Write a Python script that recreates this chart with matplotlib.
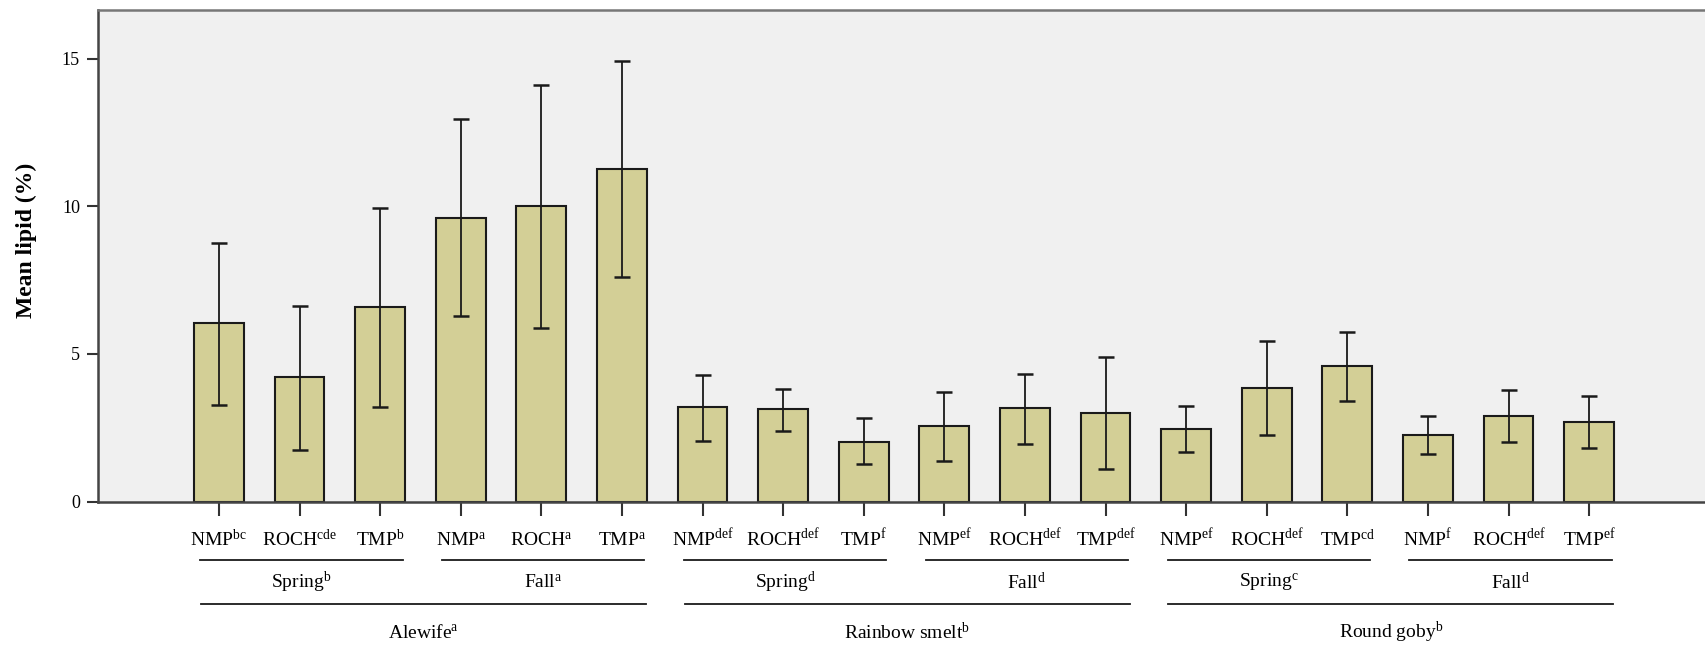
import matplotlib
matplotlib.use('Agg')
import matplotlib.pyplot as plt
import numpy as np

plt.rcParams['font.family'] = ['Liberation Serif', 'DejaVu Serif']
plt.rcParams['mathtext.fontset'] = 'custom'
plt.rcParams['mathtext.rm'] = 'Liberation Serif'
plt.rcParams['mathtext.it'] = 'Liberation Serif:italic'

# Data (mean lipid % and error bar ends)
site_labels = ['NMP$^{\\mathrm{bc}}$', 'ROCH$^{\\mathrm{cde}}$', 'TMP$^{\\mathrm{b}}$',
               'NMP$^{\\mathrm{a}}$', 'ROCH$^{\\mathrm{a}}$', 'TMP$^{\\mathrm{a}}$',
               'NMP$^{\\mathrm{def}}$', 'ROCH$^{\\mathrm{def}}$', 'TMP$^{\\mathrm{f}}$',
               'NMP$^{\\mathrm{ef}}$', 'ROCH$^{\\mathrm{def}}$', 'TMP$^{\\mathrm{def}}$',
               'NMP$^{\\mathrm{ef}}$', 'ROCH$^{\\mathrm{def}}$', 'TMP$^{\\mathrm{cd}}$',
               'NMP$^{\\mathrm{f}}$', 'ROCH$^{\\mathrm{def}}$', 'TMP$^{\\mathrm{ef}}$']
means = [6.04, 4.20, 6.58, 9.59, 10.01, 11.25,
         3.19, 3.12, 2.03, 2.54, 3.15, 3.01,
         2.47, 3.85, 4.58, 2.24, 2.90, 2.70]
err_hi = [8.76, 6.63, 9.94, 12.94, 14.12, 14.90,
          4.27, 3.81, 2.83, 3.71, 4.32, 4.90,
          3.23, 5.44, 5.74, 2.88, 3.76, 3.58]
err_lo = [3.27, 1.76, 3.21, 6.27, 5.89, 7.60,
          2.06, 2.39, 1.26, 1.37, 1.96, 1.10,
          1.66, 2.24, 3.42, 1.60, 2.03, 1.81]
season_labels = ['Spring$^{\\mathrm{b}}$', 'Fall$^{\\mathrm{a}}$',
                 'Spring$^{\\mathrm{d}}$', 'Fall$^{\\mathrm{d}}$',
                 'Spring$^{\\mathrm{c}}$', 'Fall$^{\\mathrm{d}}$']
species_labels = ['Alewife$^{\\mathrm{a}}$', 'Rainbow smelt$^{\\mathrm{b}}$',
                  'Round goby$^{\\mathrm{b}}$']

x = np.arange(len(means))
means = np.array(means)
yerr = np.vstack([means - np.array(err_lo), np.array(err_hi) - means])

fig = plt.figure(figsize=(17.05, 6.45), dpi=100)
ax = fig.add_axes([98 / 1705, 143.5 / 645, 1612 / 1705, 492 / 645])
ax.set_facecolor('#f0f0f0')

ax.bar(x, means, width=0.62, color='#d3cf96', edgecolor='#1a1a1a', linewidth=1.5, zorder=2)
ax.errorbar(x, means, yerr=yerr, fmt='none', ecolor='#1a1a1a', elinewidth=1.3,
            capsize=6, capthick=1.8, zorder=3)

ax.set_xlim(-1.5, 18.5)
ax.set_ylim(0, 16.66)
ax.set_yticks([0, 5, 10, 15])
ax.tick_params(axis='y', direction='out', length=8, width=1.5, color='#333333',
               labelsize=13, pad=5)
ax.set_xticks(x)
ax.set_xticklabels([])
ax.tick_params(axis='x', direction='out', length=10, width=1.5, color='#333333')
ax.set_ylabel('Mean lipid (%)', fontsize=17, fontweight='bold')
ax.yaxis.set_label_coords(-0.038, 0.53)

for side in ['left', 'bottom']:
    ax.spines[side].set_color('#444444')
    ax.spines[side].set_linewidth(1.8)
ax.spines['top'].set_color('#777777')
ax.spines['top'].set_linewidth(1.8)
ax.spines['right'].set_visible(False)

trans = ax.get_xaxis_transform()

# site labels under each bar
for xi, lab in zip(x, site_labels):
    ax.text(xi, -0.0905, lab, transform=trans, ha='center', va='baseline', fontsize=14)

# season groups (3 bars each)
for i, lab in enumerate(season_labels):
    x0, x1 = x[3 * i], x[3 * i + 2]
    ax.plot([x0 - 0.23, x1 + 0.28], [-0.119, -0.119], transform=trans, color='#1a1a1a',
            lw=1.3, clip_on=False)
    ax.text((x0 - 0.23 + x1 + 0.28) / 2, -0.165, lab, transform=trans, ha='center',
            va='center', fontsize=14)

# species groups (6 bars each)
for i, lab in enumerate(species_labels):
    x0, x1 = x[6 * i], x[6 * i + 5]
    ax.plot([x0 - 0.22, x1 + 0.3], [-0.209, -0.209], transform=trans, color='#1a1a1a',
            lw=1.3, clip_on=False)
    ax.text((x0 - 0.22 + x1 + 0.3) / 2, -0.267, lab, transform=trans, ha='center',
            va='center', fontsize=14)

plt.savefig('out.png', dpi=100)
plt.close()
